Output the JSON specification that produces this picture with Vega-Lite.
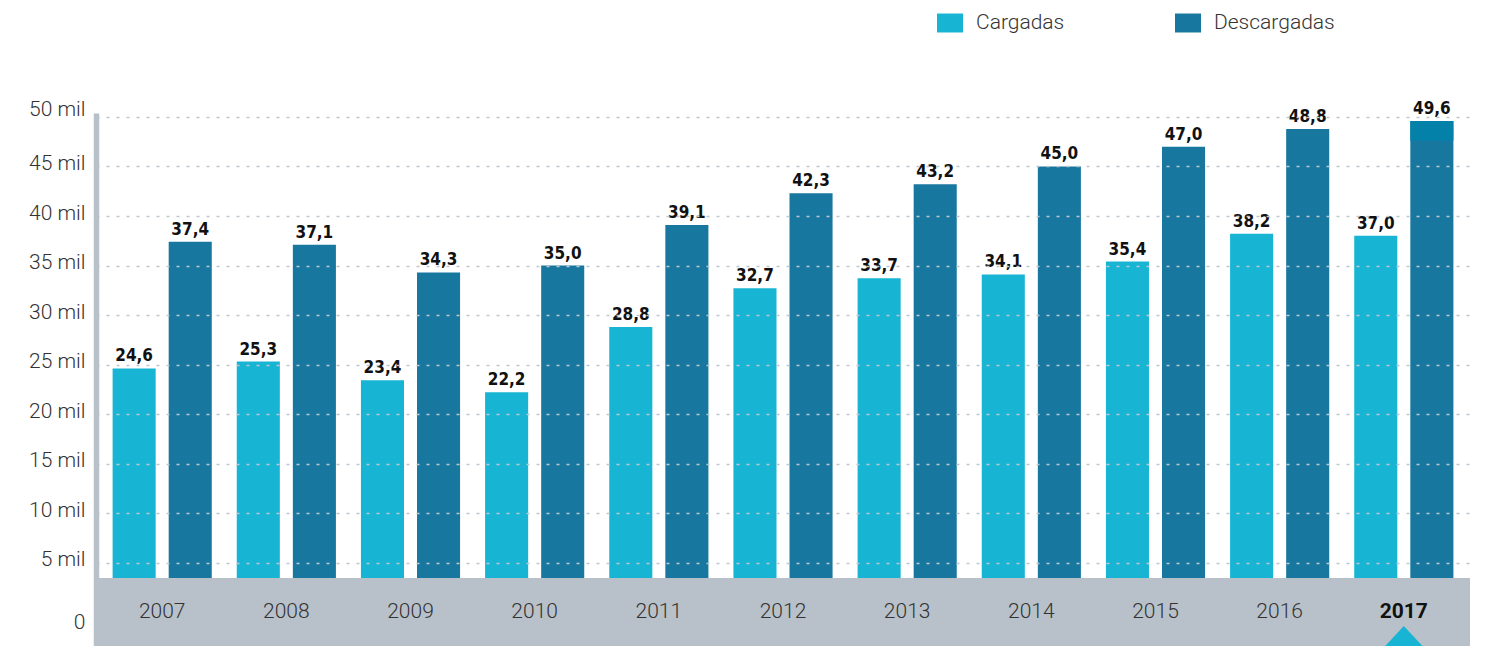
{
  "$schema": "https://vega.github.io/schema/vega-lite/v6.json",
  "width": 1374,
  "height": 533,
  "autosize": {"type": "none"},
  "padding": {"left": 96, "top": 113, "right": 19, "bottom": 0},
  "background": "white",
  "config": {"view": {"stroke": null}, "font": "Roboto"},
  "data": {
    "values": [
      {"year": "2007", "serie": "Cargadas", "value": 24.6, "label": "24,6"},
      {"year": "2007", "serie": "Descargadas", "value": 37.4, "label": "37,4"},
      {"year": "2008", "serie": "Cargadas", "value": 25.3, "label": "25,3"},
      {"year": "2008", "serie": "Descargadas", "value": 37.1, "label": "37,1"},
      {"year": "2009", "serie": "Cargadas", "value": 23.4, "label": "23,4"},
      {"year": "2009", "serie": "Descargadas", "value": 34.3, "label": "34,3"},
      {"year": "2010", "serie": "Cargadas", "value": 22.2, "label": "22,2"},
      {"year": "2010", "serie": "Descargadas", "value": 35.0, "label": "35,0"},
      {"year": "2011", "serie": "Cargadas", "value": 28.8, "label": "28,8"},
      {"year": "2011", "serie": "Descargadas", "value": 39.1, "label": "39,1"},
      {"year": "2012", "serie": "Cargadas", "value": 32.7, "label": "32,7"},
      {"year": "2012", "serie": "Descargadas", "value": 42.3, "label": "42,3"},
      {"year": "2013", "serie": "Cargadas", "value": 33.7, "label": "33,7"},
      {"year": "2013", "serie": "Descargadas", "value": 43.2, "label": "43,2"},
      {"year": "2014", "serie": "Cargadas", "value": 34.1, "label": "34,1"},
      {"year": "2014", "serie": "Descargadas", "value": 45.0, "label": "45,0"},
      {"year": "2015", "serie": "Cargadas", "value": 35.4, "label": "35,4"},
      {"year": "2015", "serie": "Descargadas", "value": 47.0, "label": "47,0"},
      {"year": "2016", "serie": "Cargadas", "value": 38.2, "label": "38,2"},
      {"year": "2016", "serie": "Descargadas", "value": 48.8, "label": "48,8"},
      {"year": "2017", "serie": "Cargadas", "value": 38.0, "label": "37,0"},
      {"year": "2017", "serie": "Descargadas", "value": 49.6, "label": "49,6"}
    ]
  },
  "layer": [
    {
      "mark": {"type": "bar"},
      "encoding": {
        "x": {"field": "year", "type": "nominal", "axis": null, "scale": {"paddingInner": 0, "paddingOuter": 0.033}},
        "xOffset": {"field": "serie", "type": "nominal", "scale": {"paddingInner": 0.232, "paddingOuter": 0.223}},
        "y": {
          "field": "value",
          "type": "quantitative",
          "scale": {"domain": [-3.434, 50.404], "nice": false, "zero": false},
          "axis": {
            "title": null,
            "values": [0, 5, 10, 15, 20, 25, 30, 35, 40, 45, 50],
            "labelExpr": "datum.value == 0 ? '0' : datum.value + ' mil'",
            "ticks": false,
            "labelPadding": 11,
            "labelFontSize": 21,
            "labelFont": "Roboto",
            "labelFontWeight": 300,
            "labelColor": "#333333",
            "labelBaseline": "middle",
            "labelOffset": {"condition": [{"test": "datum.value == 0", "value": 10}, {"test": "datum.value == 50", "value": -7}], "value": -3},
            "domainColor": "#b8c1c9",
            "domainWidth": 5.5,
            "grid": true,
            "gridColor": "#bfc7ce",
            "gridDash": [3, 7],
            "gridWidth": 1.6,
            "gridOpacity": {"condition": {"test": "datum.value == 0", "value": 0}, "value": 1},
            "zindex": 1
          }
        },
        "color": {
          "field": "serie",
          "type": "nominal",
          "scale": {"domain": ["Cargadas", "Descargadas"], "range": ["#17b5d3", "#17779f"]},
          "legend": {
            "orient": "none",
            "legendX": 841,
            "legendY": -103,
            "direction": "horizontal",
            "title": null,
            "symbolType": "M-1,-0.73L1,-0.73L1,0.73L-1,0.73Z",
            "symbolSize": 676,
            "symbolStrokeWidth": 0,
            "symbolOpacity": 1,
            "labelFontSize": 21,
            "labelFont": "Roboto",
            "labelFontWeight": 300,
            "labelColor": "#333333",
            "labelOffset": 13,
            "columnPadding": 110
          }
        }
      }
    },
    {
      "transform": [{"filter": "datum.year == '2017' && datum.serie == 'Descargadas'"}],
      "mark": {"type": "bar", "color": "#0481a8"},
      "encoding": {
        "x": {"field": "year", "type": "nominal"},
        "xOffset": {"field": "serie", "type": "nominal"},
        "y": {"field": "value", "type": "quantitative", "title": null},
        "y2": {"datum": 47.6}
      }
    },
    {
      "mark": {"type": "rect", "color": "#b8c1c9"},
      "encoding": {
        "y": {"datum": 3.43, "type": "quantitative", "title": null},
        "y2": {"datum": -3.434}
      }
    },
    {
      "mark": {"type": "text", "font": "DejaVu Sans Condensed, Liberation Sans, sans-serif", "fontWeight": "bold", "fontSize": 17, "color": "#111111", "baseline": "alphabetic", "dy": -7},
      "encoding": {
        "x": {"field": "year", "type": "nominal"},
        "xOffset": {"field": "serie", "type": "nominal"},
        "y": {"field": "value", "type": "quantitative", "title": null},
        "text": {"field": "label"}
      }
    },
    {
      "transform": [{"filter": "datum.serie == 'Cargadas' && datum.year != '2017'"}],
      "mark": {"type": "text", "font": "Roboto", "fontWeight": 300, "fontSize": 21, "color": "#333333", "baseline": "middle"},
      "encoding": {
        "x": {"field": "year", "type": "nominal"},
        "y": {"datum": 0, "type": "quantitative", "title": null},
        "text": {"field": "year"}
      }
    },
    {
      "transform": [{"filter": "datum.serie == 'Cargadas' && datum.year == '2017'"}],
      "mark": {"type": "text", "font": "Roboto", "fontWeight": "bold", "fontSize": 21, "color": "#111111", "baseline": "middle"},
      "encoding": {
        "x": {"field": "year", "type": "nominal"},
        "y": {"datum": 0, "type": "quantitative", "title": null},
        "text": {"field": "year"}
      }
    },
    {
      "transform": [{"filter": "datum.serie == 'Cargadas' && datum.year == '2017'"}],
      "mark": {"type": "point", "shape": "M0,-1L0.93,0L-0.93,0Z", "size": 1600, "filled": true, "opacity": 1, "color": "#17b5d3"},
      "encoding": {
        "x": {"field": "year", "type": "nominal"},
        "y": {"datum": -3.434, "type": "quantitative", "title": null}
      }
    }
  ]
}
